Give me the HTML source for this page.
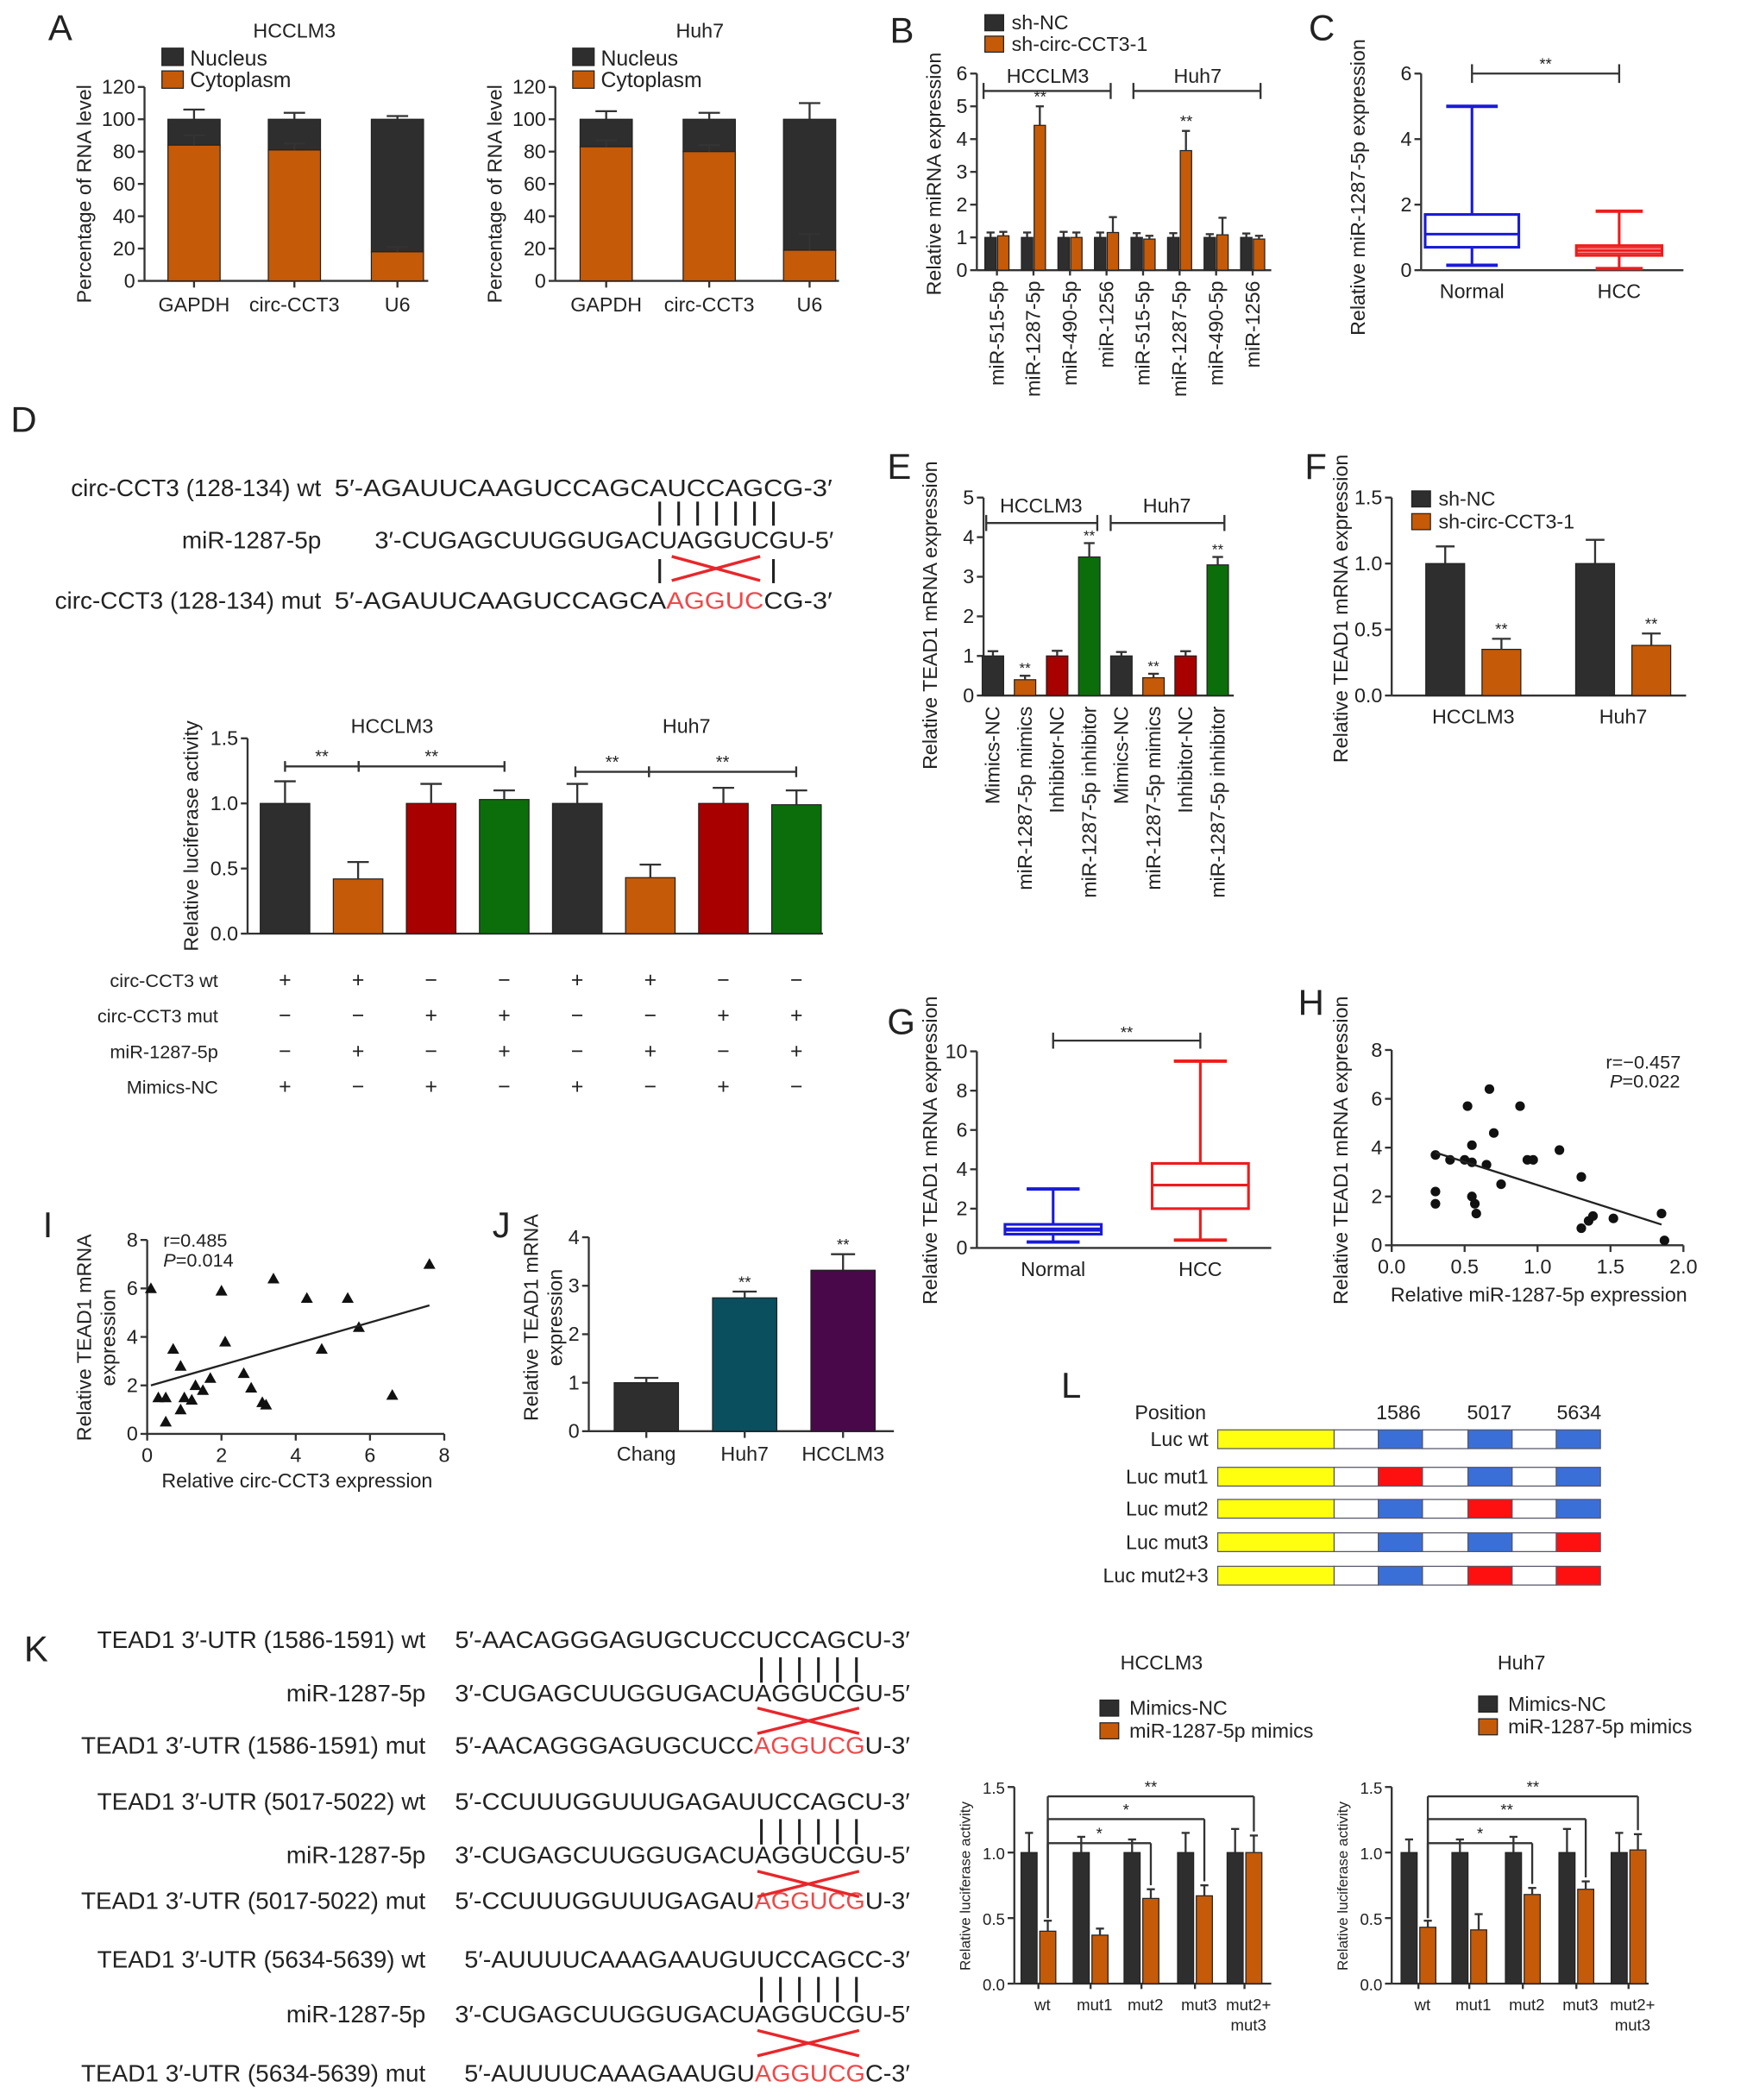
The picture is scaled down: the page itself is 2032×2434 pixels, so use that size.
<!DOCTYPE html>
<html><head><meta charset="utf-8"><style>
html,body{margin:0;padding:0;background:#fff;}
svg{display:block;font-family:"Liberation Sans",Arial,sans-serif;}
</style></head><body>
<svg id="fig" width="2032" height="2434" viewBox="0 0 1310 1570" preserveAspectRatio="none" xmlns="http://www.w3.org/2000/svg"></svg>
<script>
// ---------- DATA ----------
const aCats = ["GAPDH","circ-CCT3","U6"];
const aHccCyto = [84,81,18];
const aHccCytoErr = [90,85,21];
const aHccNucErr = [106,104,102];
const aHuhCyto = [83,80,19];
const aHuhCytoErr = [87,84,29];
const aHuhNucErr = [105,104,110];
const aTicks = [0,20,40,60,80,100,120];

const bCats = ["miR-515-5p","miR-1287-5p","miR-490-5p","miR-1256","miR-515-5p","miR-1287-5p","miR-490-5p","miR-1256"];
const bNC = [1,1,1,1,1,1,1,1];
const bNCErr = [1.15,1.15,1.17,1.15,1.13,1.13,1.1,1.12];
const bSh = [1.05,4.42,1.0,1.15,0.95,3.65,1.08,0.95];
const bShErr = [1.17,5.0,1.15,1.62,1.05,4.25,1.6,1.05];
const bTicks = [0,1,2,3,4,5,6];

const cCats = ["Normal","HCC"];
const cMin = [0.15,0.05], cQ1 = [0.7,0.45], cMed = [1.1,0.6], cQ3 = [1.7,0.75], cMax = [5.0,1.8];
const cTicks = [0,2,4,6];

const dVals = [1.0,0.42,1.0,1.03,1.0,0.43,1.0,0.99];
const dErr = [1.17,0.55,1.15,1.1,1.15,0.53,1.12,1.1];
const dTicks = [0,0.5,1.0,1.5];
const dRows = ["circ-CCT3 wt","circ-CCT3 mut","miR-1287-5p","Mimics-NC"];
const dSigns = [["+","+","−","−","+","+","−","−"],["−","−","+","+","−","−","+","+"],["−","+","−","+","−","+","−","+"],["+","−","+","−","+","−","+","−"]];

const eCats = ["Mimics-NC","miR-1287-5p mimics","Inhibitor-NC","miR-1287-5p inhibitor","Mimics-NC","miR-1287-5p mimics","Inhibitor-NC","miR-1287-5p inhibitor"];
const eVals = [1.0,0.4,1.0,3.5,1.0,0.45,1.0,3.3];
const eErr = [1.12,0.5,1.13,3.85,1.1,0.55,1.12,3.5];
const eTicks = [0,1,2,3,4,5];

const fCats = ["HCCLM3","Huh7"];
const fNC = [1.0,1.0], fNCErr = [1.13,1.18];
const fSh = [0.35,0.38], fShErr = [0.43,0.47];
const fTicks = [0,0.5,1.0,1.5];

const gCats = ["Normal","HCC"];
const gMin = [0.3,0.4], gQ1 = [0.7,2.0], gMed = [0.9,3.2], gQ3 = [1.2,4.3], gMax = [3.0,9.5];
const gTicks = [0,2,4,6,8,10];

const hX = [0.3,0.3,0.3,0.4,0.5,0.52,0.55,0.55,0.55,0.57,0.58,0.65,0.67,0.7,0.75,0.88,0.93,0.97,1.15,1.3,1.3,1.35,1.38,1.52,1.85,1.87];
const hY = [3.7,2.2,1.7,3.5,3.5,5.7,4.1,3.4,2.0,1.7,1.3,3.3,6.4,4.6,2.5,5.7,3.5,3.5,3.9,2.8,0.7,1.0,1.2,1.1,1.3,0.2];
const hXT = [0,0.5,1.0,1.5,2.0], hYT = [0,2,4,6,8];

const iX = [0.1,0.3,0.5,0.5,0.7,0.9,0.9,1.0,1.2,1.3,1.5,1.7,2.0,2.1,2.6,2.8,3.1,3.2,3.4,4.3,4.7,5.4,5.7,6.6,7.6];
const iY = [6.0,1.5,1.5,0.5,3.5,2.8,1.0,1.5,1.4,2.0,1.8,2.3,5.9,3.8,2.5,1.9,1.3,1.2,6.4,5.6,3.5,5.6,4.4,1.6,7.0];
const iXT = [0,2,4,6,8], iYT = [0,2,4,6,8];

const jCats = ["Chang","Huh7","HCCLM3"];
const jVals = [1.0,2.75,3.32], jErr = [1.1,2.88,3.65];
const jTicks = [0,1,2,3,4];

const kCats = ["wt","mut1","mut2","mut3","mut2+"];
const kHccNC = [1,1,1,1,1], kHccNCErr = [1.15,1.12,1.1,1.15,1.18];
const kHccMim = [0.4,0.37,0.65,0.67,1.0], kHccMimErr = [0.48,0.42,0.72,0.75,1.13];
const kHuhNC = [1,1,1,1,1], kHuhNCErr = [1.1,1.1,1.12,1.18,1.15];
const kHuhMim = [0.43,0.41,0.68,0.72,1.02], kHuhMimErr = [0.48,0.53,0.73,0.78,1.14];
const kTicks = [0,0.5,1.0,1.5];

// ---------- HELPERS ----------
const NS="http://www.w3.org/2000/svg", S=document.getElementById('fig');
const DARK="#2e2e2e", ORG="#c55a08", RED="#a80000", GRN="#0b6e0b", TEAL="#0a4f5e", PUR="#48084a";
function el(tag,a,name){const e=document.createElementNS(NS,tag);for(const k in a)e.setAttribute(k,a[k]);


S.appendChild(e);return e;}
function T(x,y,s,o,name){o=o||{};const a={x:x,y:y,'font-size':o.fs||15,fill:o.fill||'#222','text-anchor':o.anchor||'start'};
if(o.rot!==undefined)a.transform=`rotate(${o.rot} ${x} ${y})`;if(o.len)a.textLength=o.len,a.lengthAdjust='spacingAndGlyphs';
const e=el('text',a,name||'label');e.textContent=s;return e;}
function L(x1,y1,x2,y2,name,w,c){return el('line',{x1:x1,y1:y1,x2:x2,y2:y2,stroke:c||'#333','stroke-width':w||1.5},name||'line');}
function R(x,y,w,h,f,name,st){return el('rect',{x:x,y:y,width:w,height:h,fill:f,stroke:st||'#222','stroke-width':0.8},name||'bar');}
function scale(v0,v1,p0,p1){return v=>p0+(v-v0)/(v1-v0)*(p1-p0);}
function yAxis(x,sy,ticks,fmt,fs,name){L(x,sy(ticks[0]),x,sy(ticks[ticks.length-1]),name+'-line');
ticks.forEach(t=>{L(x-5,sy(t),x,sy(t),name+'-tick');T(x-7,sy(t)+5,fmt?fmt(t):String(t),{fs:fs||15,anchor:'end'},name+'-tick-label');});}
function err(x,v,e,sy,w,name){L(x,sy(v),x,sy(e),name||'error-bar',1.5);L(x-w,sy(e),x+w,sy(e),name||'error-cap',1.5);}
const f1=t=>t.toFixed(1);

// ---------- PANEL A ----------
function panelA(ax,cx,title,tx,cyto,cytoErr,nucErr,pre){
 const sy=scale(0,120,210,65);
 T(tx,28,title,{fs:15,anchor:'middle'},pre+'-title');
 R(ax+13,36,16,13,DARK,pre+'-legend-swatch-nucleus');T(ax+34,49,'Nucleus',{fs:16},pre+'-legend-nucleus');
 R(ax+13,53,16,13,ORG,pre+'-legend-swatch-cytoplasm');T(ax+34,65,'Cytoplasm',{fs:16},pre+'-legend-cytoplasm');
 yAxis(ax,sy,aTicks,null,15,pre+'-y-axis');
 L(ax,210,ax+212,210,pre+'-x-axis');
 T(ax-40,145,'Percentage of RNA level',{fs:15,anchor:'middle',rot:-90},pre+'-y-axis-title');
 aCats.forEach((c,i)=>{const x=cx[i],w=39;
  R(x-w/2,sy(100),w,sy(cyto[i])-sy(100),DARK,pre+'-bar-nucleus-'+i);
  R(x-w/2,sy(cyto[i]),w,210-sy(cyto[i]),ORG,pre+'-bar-cytoplasm-'+i);
  err(x,100,nucErr[i],sy,8,pre+'-nucleus-error');err(x,cyto[i],cytoErr[i],sy,8,pre+'-cytoplasm-error');
  L(x,210,x,215,pre+'-x-tick');
  T(x,233,c,{fs:15,anchor:'middle'},pre+'-x-label');});
}
T(36,30,'A',{fs:27},'panel-label-a');
panelA(108,[145,220,297],'HCCLM3',220,aHccCyto,aHccCytoErr,aHccNucErr,'a-hcclm3');
panelA(415,[453,530,605],'Huh7',523,aHuhCyto,aHuhCytoErr,aHuhNucErr,'a-huh7');

// ---------- PANEL B ----------
(function(){const ax=730,sy=scale(0,6,202,55),pre='b';
 T(665,32,'B',{fs:27},'panel-label-b');
 R(736,11,14,12,DARK,'b-legend-swatch-sh-nc');T(756,22,'sh-NC',{fs:15},'b-legend-sh-nc');
 R(736,27,14,12,ORG,'b-legend-swatch-sh-circ');T(756,38,'sh-circ-CCT3-1',{fs:15},'b-legend-sh-circ');
 yAxis(ax,sy,bTicks,null,15,'b-y-axis');L(ax,202,950,202,'b-x-axis');
 T(703,130,'Relative miRNA expression',{fs:15,anchor:'middle',rot:-90},'b-y-axis-title');
 L(735,68,830,68,'b-bracket-hcclm3');L(735,62,735,74,'b-bracket-hcclm3');L(830,62,830,74,'b-bracket-hcclm3');
 L(847,68,942,68,'b-bracket-huh7');L(847,62,847,74,'b-bracket-huh7');L(942,62,942,74,'b-bracket-huh7');
 T(783,62,'HCCLM3',{fs:15,anchor:'middle'},'b-group-hcclm3');T(895,62,'Huh7',{fs:15,anchor:'middle'},'b-group-huh7');
 bCats.forEach((c,i)=>{const x=745+i*27.3,w=8.5;
  R(x-w-0.5,sy(bNC[i]),w,202-sy(bNC[i]),DARK,'b-bar-sh-nc-'+i);
  R(x+0.5,sy(bSh[i]),w,202-sy(bSh[i]),ORG,'b-bar-sh-circ-'+i);
  err(x-w/2-0.5,bNC[i],bNCErr[i],sy,3,'b-error');err(x+w/2+0.5,bSh[i],bShErr[i],sy,3,'b-error');
  if(bSh[i]>3)T(x+5,sy(bShErr[i])-3,'**',{fs:12,anchor:'middle'},'b-significance');
  L(x,202,x,206,'b-x-tick');
  T(x+5,210,c,{fs:15,anchor:'end',rot:-90},'b-x-label');});
})();

// ---------- box plot helper ----------
function boxPlot(sy,cx,hw,mn,q1,md,q3,mx,col,name,extra){
 L(cx,sy(mn),cx,sy(q1),name+'-whisker',2,col);L(cx,sy(q3),cx,sy(mx),name+'-whisker',2,col);
 L(cx-hw*0.55,sy(mn),cx+hw*0.55,sy(mn),name+'-cap',2.5,col);L(cx-hw*0.55,sy(mx),cx+hw*0.55,sy(mx),name+'-cap',2.5,col);
 el('rect',{x:cx-hw,y:sy(q3),width:2*hw,height:sy(q1)-sy(q3),fill:'none',stroke:col,'stroke-width':2},name+'-box');
 L(cx-hw,sy(md),cx+hw,sy(md),name+'-median',2,col);
 (extra||[]).forEach(v=>L(cx-hw,sy(v),cx+hw,sy(v),name+'-line',1.2,col));
}

// ---------- PANEL C ----------
(function(){const ax=1062,sy=scale(0,6,202,55);
 T(978,30,'C',{fs:27},'panel-label-c');
 yAxis(ax,sy,cTicks,null,15,'c-y-axis');L(ax,202,1258,202,'c-x-axis');
 T(1020,140,'Relative miR-1287-5p expression',{fs:15,anchor:'middle',rot:-90},'c-y-axis-title');
 const cx=[1100,1210],cols=['#1a1ad8','#ee1c1c'];
 cCats.forEach((c,i)=>{boxPlot(sy,cx[i],i?32:35,cMin[i],cQ1[i],cMed[i],cQ3[i],cMax[i],cols[i],'c-box-'+c.toLowerCase(),i?[0.52,0.68]:[]);
  T(cx[i],223,c,{fs:15,anchor:'middle'},'c-x-label');});
 L(1100,55,1210,55,'c-significance-bracket');L(1100,48,1100,62,'c-bracket');L(1210,48,1210,62,'c-bracket');
 T(1155,52,'**',{fs:12,anchor:'middle'},'c-significance');
})();

// ---------- PANEL D sequences ----------
T(8,323,'D',{fs:27},'panel-label-d');
function seqRow(lx,ly,label,sx,parts,len,pre){T(lx,ly,label,{fs:18,anchor:'end'},pre+'-label');
 const t=el('text',{x:sx,y:ly,'font-size':18,fill:'#222',textLength:len,lengthAdjust:'spacingAndGlyphs'},pre+'-sequence');
 parts.forEach(p=>{const s=document.createElementNS(NS,'tspan');s.textContent=p[0];if(p[1])s.setAttribute('fill','#f04848');t.appendChild(s);});}
function pairBars(x0,x1,n,y0,y1,name){for(let k=0;k<n;k++){const x=x0+k*(x1-x0)/(n-1);L(x,y0,x,y1,name,2,'#222');}}
function redX(x0,x1,y0,y1,name){L(x0,y0,x1,y1,name,2.2,'#e8262a');L(x0,y1,x1,y0,name,2.2,'#e8262a');}
seqRow(240,371,'circ-CCT3 (128-134) wt',250,[["5′-AGAUUCAAGUCCAGCAUCCAGCG-3′"]],372,'d-wt');
seqRow(240,410,'miR-1287-5p',280,[["3′-CUGAGCUUGGUGACUAGGUCGU-5′"]],343,'d-mir');
seqRow(240,455,'circ-CCT3 (128-134) mut',250,[["5′-AGAUUCAAGUCCAGCA"],["AGGUC",1],["CG-3′"]],372,'d-mut');
pairBars(493,578,7,375,393,'d-pair-bar');
redX(502,568,416,434,'d-mutation-cross');L(493,418,493,436,'d-pair-bar',2,'#222');L(578,418,578,436,'d-pair-bar',2,'#222');

// ---------- PANEL D chart ----------
(function(){const ax=185,sy=scale(0,1.5,698,552),cols=[DARK,ORG,RED,GRN];
 yAxis(ax,sy,dTicks,f1,15,'d-y-axis');L(ax,698,615,698,'d-x-axis');
 T(148,625,'Relative luciferase activity',{fs:15,anchor:'middle',rot:-90},'d-y-axis-title');
 T(293,548,'HCCLM3',{fs:15,anchor:'middle'},'d-title-hcclm3');T(513,548,'Huh7',{fs:15,anchor:'middle'},'d-title-huh7');
 dVals.forEach((v,i)=>{const x=213+i*54.6,w=37;
  R(x-w/2,sy(v),w,698-sy(v),cols[i%4],'d-bar-'+i);err(x,v,dErr[i],sy,8,'d-error');});
 const br=[[213,268,573],[268,377,573],[430,485,577],[485,595,577]];
 br.forEach(b=>{L(b[0],b[2],b[1],b[2],'d-significance-bracket');L(b[0],b[2]-4,b[0],b[2]+4,'d-bracket');L(b[1],b[2]-4,b[1],b[2]+4,'d-bracket');
  T((b[0]+b[1])/2,b[2]-3,'**',{fs:13,anchor:'middle'},'d-significance');});
 dRows.forEach((r,j)=>{const y=738+j*26.5;T(163,y,r,{fs:14,anchor:'end'},'d-table-row-label');
  dSigns[j].forEach((s,i)=>T(213+i*54.6,y,s,{fs:16,anchor:'middle'},'d-table-sign'));});
})();

// ---------- PANEL E ----------
(function(){const ax=735,sy=scale(0,5,520,372),cols=[DARK,ORG,RED,GRN];
 T(663,358,'E',{fs:27},'panel-label-e');
 yAxis(ax,sy,eTicks,null,15,'e-y-axis');L(ax,520,922,520,'e-x-axis');
 T(700,460,'Relative TEAD1 mRNA expression',{fs:15,anchor:'middle',rot:-90},'e-y-axis-title');
 L(737,391,820,391,'e-bracket-hcclm3');L(737,385,737,397,'e-bracket');L(820,385,820,397,'e-bracket');
 L(830,391,915,391,'e-bracket-huh7');L(830,385,830,397,'e-bracket');L(915,385,915,397,'e-bracket');
 T(778,383,'HCCLM3',{fs:15,anchor:'middle'},'e-group-hcclm3');T(872,383,'Huh7',{fs:15,anchor:'middle'},'e-group-huh7');
 eCats.forEach((c,i)=>{const x=742+i*24,w=16;
  R(x-w/2,sy(eVals[i]),w,520-sy(eVals[i]),cols[i%4],'e-bar-'+i);err(x,eVals[i],eErr[i],sy,4,'e-error');
  if(i%2)T(x,sy(eErr[i])-2,'**',{fs:11,anchor:'middle'},'e-significance');
  T(x+5,528,c,{fs:15,anchor:'end',rot:-90},'e-x-label');});
})();

// ---------- PANEL F ----------
(function(){const ax=1040,sy=scale(0,1.5,520,372);
 T(975,358,'F',{fs:27},'panel-label-f');
 R(1055,367,14,12,DARK,'f-legend-swatch-sh-nc');T(1075,378,'sh-NC',{fs:15},'f-legend-sh-nc');
 R(1055,384,14,12,ORG,'f-legend-swatch-sh-circ');T(1075,395,'sh-circ-CCT3-1',{fs:15},'f-legend-sh-circ');
 yAxis(ax,sy,fTicks,f1,15,'f-y-axis');L(ax,520,1260,520,'f-x-axis');
 T(1007,455,'Relative TEAD1 mRNA expression',{fs:15,anchor:'middle',rot:-90},'f-y-axis-title');
 const cx=[1101,1213];
 fCats.forEach((c,i)=>{const w=29;
  R(cx[i]-21-w/2,sy(fNC[i]),w,520-sy(fNC[i]),DARK,'f-bar-sh-nc-'+i);err(cx[i]-21,fNC[i],fNCErr[i],sy,7,'f-error');
  R(cx[i]+21-w/2,sy(fSh[i]),w,520-sy(fSh[i]),ORG,'f-bar-sh-circ-'+i);err(cx[i]+21,fSh[i],fShErr[i],sy,7,'f-error');
  T(cx[i]+21,sy(fShErr[i])-3,'**',{fs:12,anchor:'middle'},'f-significance');
  T(cx[i],541,c,{fs:15,anchor:'middle'},'f-x-label');});
})();

// ---------- PANEL G ----------
(function(){const ax=730,sy=scale(0,10,933,786);
 T(663,773,'G',{fs:27},'panel-label-g');
 yAxis(ax,sy,gTicks,null,15,'g-y-axis');L(ax,933,950,933,'g-x-axis');
 T(700,860,'Relative TEAD1 mRNA expression',{fs:15,anchor:'middle',rot:-90},'g-y-axis-title');
 const cx=[787,897],cols=['#1a1ad8','#ee1c1c'];
 gCats.forEach((c,i)=>{boxPlot(sy,cx[i],36,gMin[i],gQ1[i],gMed[i],gQ3[i],gMax[i],cols[i],'g-box-'+c.toLowerCase(),i?[]:[1.0]);
  T(cx[i],954,c,{fs:15,anchor:'middle'},'g-x-label');});
 L(787,778,897,778,'g-significance-bracket');L(787,772,787,784,'g-bracket');L(897,772,897,784,'g-bracket');
 T(842,776,'**',{fs:12,anchor:'middle'},'g-significance');
})();

// ---------- scatter helper ----------
function scatter(ax,ay,sx,sy,xt,yt,xf,yf,xs,ys,marker,pre){
 yAxis(ax,sy,yt,yf,15,pre+'-y-axis');
 L(ax,ay,sx(xt[xt.length-1]),ay,pre+'-x-axis');
 xt.forEach(t=>{L(sx(t),ay,sx(t),ay+5,pre+'-x-tick');T(sx(t),ay+21,xf?xf(t):String(t),{fs:15,anchor:'middle'},pre+'-x-tick-label');});
 xs.forEach((v,i)=>{const x=sx(v),y=sy(ys[i]);
  if(marker==='tri')el('polygon',{points:`${x},${y-4.5} ${x-4.5},${y+3.5} ${x+4.5},${y+3.5}`,fill:'#111'},pre+'-point');
  else el('circle',{cx:x,cy:y,r:3.6,fill:'#111'},pre+'-point');});
}

// ---------- PANEL H ----------
(function(){const sx=scale(0,2,1040,1258),sy=scale(0,8,931,785);
 T(970,759,'H',{fs:27},'panel-label-h');
 scatter(1040,931,sx,sy,hXT,hYT,f1,null,hX,hY,'dot','h');
 L(sx(0.3),sy(3.8),sx(1.85),sy(0.85),'h-regression-line',1.5,'#222');
 T(1200,799,'r=−0.457',{fs:14},'h-r-value');
 el('text',{x:1203,y:813,'font-size':14,fill:'#222'},'h-p-value').innerHTML='<tspan font-style="italic">P</tspan>=0.022';
 T(1007,860,'Relative TEAD1 mRNA expression',{fs:15,anchor:'middle',rot:-90},'h-y-axis-title');
 T(1150,973,'Relative miR-1287-5p expression',{fs:15,anchor:'middle'},'h-x-axis-title');
})();

// ---------- PANEL I ----------
(function(){const sx=scale(0,8,110,332),sy=scale(0,8,1072,927);
 T(32,925,'I',{fs:27},'panel-label-i');
 scatter(110,1072,sx,sy,iXT,iYT,null,null,iX,iY,'tri','i');
 L(sx(0.1),sy(2.0),sx(7.6),sy(5.3),'i-regression-line',1.5,'#222');
 T(122,932,'r=0.485',{fs:14},'i-r-value');
 el('text',{x:122,y:947,'font-size':14,fill:'#222'},'i-p-value').innerHTML='<tspan font-style="italic">P</tspan>=0.014';
 T(68,1000,'Relative TEAD1 mRNA',{fs:15,anchor:'middle',rot:-90},'i-y-axis-title');
 T(86,1000,'expression',{fs:15,anchor:'middle',rot:-90},'i-y-axis-title-2');
 T(222,1112,'Relative circ-CCT3 expression',{fs:15,anchor:'middle'},'i-x-axis-title');
})();

// ---------- PANEL J ----------
(function(){const ax=440,sy=scale(0,4,1070,925),cols=[DARK,TEAL,PUR];
 T(368,925,'J',{fs:27},'panel-label-j');
 yAxis(ax,sy,jTicks,null,15,'j-y-axis');L(ax,1070,668,1070,'j-x-axis');
 T(402,985,'Relative TEAD1 mRNA',{fs:15,anchor:'middle',rot:-90},'j-y-axis-title');
 T(420,985,'expression',{fs:15,anchor:'middle',rot:-90},'j-y-axis-title-2');
 jCats.forEach((c,i)=>{const x=483+i*73.5,w=48;
  R(x-w/2,sy(jVals[i]),w,1070-sy(jVals[i]),cols[i],'j-bar-'+c.toLowerCase());err(x,jVals[i],jErr[i],sy,9,'j-error');
  if(i)T(x,sy(jErr[i])-3,'**',{fs:12,anchor:'middle'},'j-significance');
  L(x,1070,x,1075,'j-x-tick');T(x,1092,c,{fs:15,anchor:'middle'},'j-x-label');});
})();

// ---------- PANEL L ----------
(function(){T(793,1045,'L',{fs:27},'panel-label-l');
 T(848,1061,'Position',{fs:15},'l-position-label');
 T(1045,1061,'1586',{fs:15,anchor:'middle'},'l-pos-1586');T(1113,1061,'5017',{fs:15,anchor:'middle'},'l-pos-5017');T(1180,1061,'5634',{fs:15,anchor:'middle'},'l-pos-5634');
 const rows=['Luc wt','Luc mut1','Luc mut2','Luc mut3','Luc mut2+3'],ys=[1076,1104,1128,1153,1178];
 const muts=[[],[0],[1],[2],[1,2]];const segs=[[910,997,'#ffff10'],[997,1030,'#fff'],[1030,1063,'b'],[1063,1097,'#fff'],[1097,1130,'b'],[1130,1163,'#fff'],[1163,1196,'b']];
 rows.forEach((r,j)=>{T(903,ys[j]+5,r,{fs:15,anchor:'end'},'l-row-label');
  let bi=0;segs.forEach(s=>{let f=s[2];if(f==='b'){f=muts[j].includes(bi)?'#ff1010':'#3a6fd8';bi++;}
   el('rect',{x:s[0],y:ys[j]-7,width:s[1]-s[0],height:14,fill:f,stroke:'#556',"stroke-width":0.8},'l-construct-segment');});});
})();

// ---------- PANEL K sequences ----------
T(18,1242,'K',{fs:27},'panel-label-k');
(function(){const mir=[["3′-CUGAGCUUGGUGACUAGGUCGU-5′"]];
 const rows=[['TEAD1 3′-UTR (1586-1591) wt',1232,[["5′-AACAGGGAGUGCUCCUCCAGCU-3′"]],340],
  ['miR-1287-5p',1272,mir,340],
  ['TEAD1 3′-UTR (1586-1591) mut',1311,[["5′-AACAGGGAGUGCUCC"],["AGGUCG",1],["U-3′"]],340],
  ['TEAD1 3′-UTR (5017-5022) wt',1353,[["5′-CCUUUGGUUUGAGAUUCCAGCU-3′"]],340],
  ['miR-1287-5p',1393,mir,340],
  ['TEAD1 3′-UTR (5017-5022) mut',1427,[["5′-CCUUUGGUUUGAGAU"],["AGGUCG",1],["U-3′"]],340],
  ['TEAD1 3′-UTR (5634-5639) wt',1471,[["5′-AUUUUCAAAGAAUGUUCCAGCC-3′"]],347],
  ['miR-1287-5p',1512,mir,340],
  ['TEAD1 3′-UTR (5634-5639) mut',1556,[["5′-AUUUUCAAAGAAUGU"],["AGGUCG",1],["C-3′"]],347]];
 rows.forEach((r,i)=>seqRow(318,r[1],r[0],r[3],r[2],i%3===1?340:(r[3]===347?333:340),'k-row-'+i));
 pairBars(569,640,6,1239,1258,'k-pair-bar');redX(566,642,1277,1296,'k-mutation-cross');
 pairBars(569,640,6,1360,1379,'k-pair-bar');redX(566,642,1399,1418,'k-mutation-cross');
 pairBars(569,640,6,1478,1497,'k-pair-bar');redX(566,642,1518,1537,'k-mutation-cross');
})();

// ---------- PANEL K charts ----------
function kChart(ax,gx,title,tx,lx,ly,nc,ncE,mm,mmE,brs,pre){
 const sy=scale(0,1.5,1483,1336);
 T(tx,1248,title,{fs:15,anchor:'middle'},pre+'-title');
 R(lx,ly-11,14,12,DARK,pre+'-legend-swatch-mimics-nc');T(lx+22,ly,'Mimics-NC',{fs:15},pre+'-legend-mimics-nc');
 R(lx,ly+6,14,12,ORG,pre+'-legend-swatch-mimics');T(lx+22,ly+17,'miR-1287-5p mimics',{fs:15},pre+'-legend-mimics');
 yAxis(ax,sy,kTicks,f1,12,pre+'-y-axis');L(ax,1483,ax+192,1483,pre+'-x-axis');
 T(ax-33,1410,'Relative luciferase activity',{fs:11,anchor:'middle',rot:-90},pre+'-y-axis-title');
 kCats.forEach((c,i)=>{const x=gx[i],w=12;
  R(x-w-1,sy(nc[i]),w,1483-sy(nc[i]),DARK,pre+'-bar-mimics-nc-'+i);err(x-w/2-1,nc[i],ncE[i],sy,3,pre+'-error');
  R(x+1,sy(mm[i]),w,1483-sy(mm[i]),ORG,pre+'-bar-mimics-'+i);err(x+w/2+1,mm[i],mmE[i],sy,3,pre+'-error');
  L(x,1483,x,1487,pre+'-x-tick');
  T(x+3,1503,c,{fs:12,anchor:'middle'},pre+'-x-label');});
 T(gx[4]+3,1518,'mut3',{fs:12,anchor:'middle'},pre+'-x-label');
 const x0=gx[0]+7;
 brs.forEach(b=>{const x1=gx[b[0]]+7;L(x0,b[1],x1,b[1],pre+'-significance-bracket');L(x0,b[1],x0,sy(mmE[0])-2,pre+'-bracket');
  L(x1,b[1],x1,sy(mmE[b[0]])-3,pre+'-bracket');T((x0+x1)/2,b[1]-3,b[2],{fs:12,anchor:'middle'},pre+'-significance');});
}
kChart(758,[776,815,853,893,930],'HCCLM3',868,822,1282,kHccNC,kHccNCErr,kHccMim,kHccMimErr,[[4,1343,'**'],[3,1360,'*'],[2,1378,'*']],'k-hcclm3');
kChart(1040,[1060,1098,1138,1178,1217],'Huh7',1137,1105,1279,kHuhNC,kHuhNCErr,kHuhMim,kHuhMimErr,[[4,1343,'**'],[3,1360,'**'],[2,1378,'*']],'k-huh7');
</script>
</body></html>
